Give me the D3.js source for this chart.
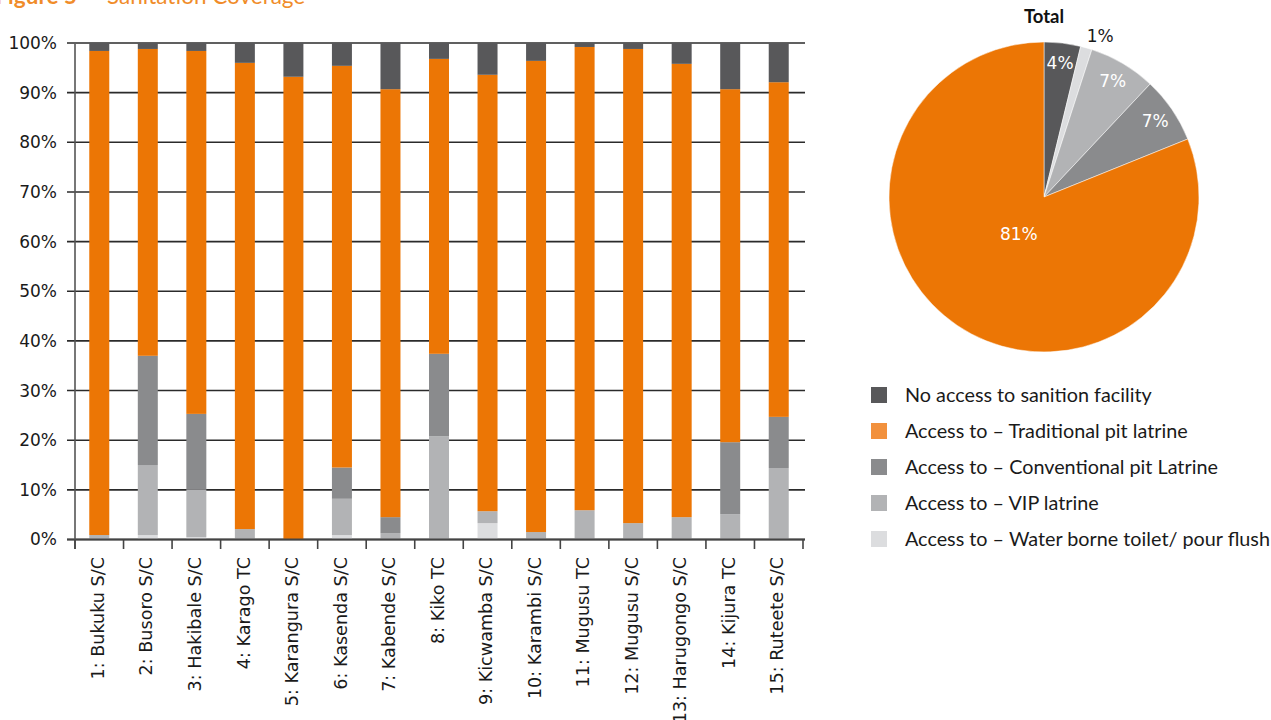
<!DOCTYPE html>
<html>
<head>
<meta charset="utf-8">
<script src="https://cdn.jsdelivr.net/npm/d3@7"></script>
<style>
  body { margin: 0; background: #fff; }
  svg { display: block; }
  .tick-label { font-family: "DejaVu Sans", sans-serif; font-size: 17px; fill: #1a1a1a; }
  .cat-label { font-family: "DejaVu Sans", sans-serif; font-size: 17.6px; fill: #1a1a1a; }
  .legend-label { font-family: Lato, sans-serif; font-size: 19.8px; fill: #1a1a1a; }
</style>
</head>
<body>
<div id="chart"></div>
<script>
const categories = [
  '1: Bukuku S/C', '2: Busoro S/C', '3: Hakibale S/C', '4: Karago TC', '5: Karangura S/C',
  '6: Kasenda S/C', '7: Kabende S/C', '8: Kiko TC', '9: Kicwamba S/C', '10: Karambi S/C',
  '11: Mugusu TC', '12: Mugusu S/C', '13: Harugongo S/C', '14: Kijura TC', '15: Ruteete S/C'
];
const seriesNames = [
  'No access to sanition facility',
  'Access to \u2013 Traditional pit latrine',
  'Access to \u2013 Conventional pit Latrine',
  'Access to \u2013 VIP latrine',
  'Access to \u2013 Water borne toilet/ pour flush'
];
// per-subcounty percentages, one array per series
const waterBorne   = [0,   0.9,  0.5, 0,    0,    0.9,  0,    0,    3.3,  0,    0,    0,    0,    0,    0];
const vipLatrine   = [0.9, 14.1, 9.5, 2.1,  0,    7.3,  1.3,  20.8, 2.4,  1.5,  5.9,  3.3,  4.5,  5.1,  14.4];
const conventional = [0,   22.0, 15.3, 0,   0,    6.3,  3.2,  16.6, 0,    0,    0,    0,    0,    14.5, 10.3];
const traditional  = [97.5, 61.8, 73.1, 93.9, 93.2, 80.9, 86.2, 59.4, 87.9, 94.9, 93.3, 95.5, 91.3, 71.1, 67.4];
const noAccess     = [1.6, 1.2,  1.6, 4.0,  6.8,  4.6,  9.3,  3.2,  6.4,  3.6,  0.8,  1.2,  4.2,  9.3,  7.9];
const yTicks = [0, 10, 20, 30, 40, 50, 60, 70, 80, 90, 100];

// pie: total across district
const pieValues = [3.8, 1.2, 7.0, 6.9, 81.1];
const pieLabels = ['4%', '1%', '7%', '7%', '81%'];
const pieSeries = [0, 4, 3, 2, 1]; // index into seriesNames / colors

const colors = ['#58585a', '#ec7605', '#8a8b8d', '#b2b3b5', '#dcdddf'];
const legendColors = ['#58585a', '#f2913d', '#8a8b8d', '#b2b3b5', '#dcdddf'];

const width = 1271;
const height = 720;

const svg = d3.select('#chart').append('svg')
  .attr('width', width)
  .attr('height', height);

// title (cut off at the top in the original)
svg.append('text')
  .attr('x', 77).attr('y', 4)
  .attr('text-anchor', 'end')
  .style('font-family', 'Lato, sans-serif')
  .style('font-size', '22.5px')
  .style('font-weight', 'bold')
  .style('fill', '#f08c2a')
  .text('Figure 5');
svg.append('text')
  .attr('x', 107).attr('y', 4)
  .style('font-family', 'Lato, sans-serif')
  .style('font-size', '22.5px')
  .style('fill', '#f08c2a')
  .text('Sanitation Coverage');

// ---- stacked bars ----
const rows = categories.map((c, i) => ({
  name: c,
  water: waterBorne[i],
  vip: vipLatrine[i],
  conv: conventional[i],
  trad: traditional[i],
  none: noAccess[i],
}));
const keys = ['water', 'vip', 'conv', 'trad', 'none'];
const keyColor = { none: colors[0], trad: colors[1], conv: colors[2], vip: colors[3], water: colors[4] };

const x = d3.scaleBand()
  .domain(categories)
  .range([75, 803])
  .paddingInner(0.588)
  .paddingOuter(0.294);
const step = x.step();

const y = d3.scaleLinear()
  .domain([0, 100])
  .range([539.5, 43]);

const grid = svg.append('g');
grid.selectAll('line')
  .data(yTicks)
  .enter().append('line')
  .attr('x1', 67).attr('x2', 805)
  .attr('y1', (d) => y(d)).attr('y2', (d) => y(d))
  .attr('stroke', '#2b2b2b')
  .attr('stroke-width', 1.6);

svg.append('g').selectAll('text')
  .data(yTicks)
  .enter().append('text')
  .attr('class', 'tick-label')
  .attr('x', 57)
  .attr('y', (d) => y(d))
  .attr('dy', '0.35em')
  .attr('text-anchor', 'end')
  .text((d) => `${d}%`);

const stack = d3.stack().keys(keys)(rows);

svg.append('g').selectAll('g')
  .data(stack)
  .enter().append('g')
  .attr('fill', (d) => keyColor[d.key])
  .selectAll('rect')
  .data((d) => d)
  .enter().append('rect')
  .attr('x', (d) => x(d.data.name))
  .attr('width', x.bandwidth())
  .attr('y', (d) => y(d[1]))
  .attr('height', (d) => y(d[0]) - y(d[1]));

// axes drawn over the bars
svg.append('line')
  .attr('x1', 67).attr('x2', 805)
  .attr('y1', y(0)).attr('y2', y(0))
  .attr('stroke', '#444').attr('stroke-width', 2);
svg.append('line')
  .attr('x1', 75).attr('x2', 75)
  .attr('y1', 44).attr('y2', 549)
  .attr('stroke', '#555').attr('stroke-width', 1.6);

const boundaries = d3.range(categories.length + 1).map((i) => x.range()[0] + i * step);
svg.append('g').selectAll('line')
  .data(boundaries)
  .enter().append('line')
  .attr('x1', (d) => d).attr('x2', (d) => d)
  .attr('y1', y(0)).attr('y2', 549)
  .attr('stroke', '#444').attr('stroke-width', 1.6);

svg.append('g').selectAll('text')
  .data(categories)
  .enter().append('text')
  .attr('class', 'cat-label')
  .attr('transform', (d) => `translate(${x(d) + x.bandwidth() / 2 - 1.5},557) rotate(-90)`)
  .attr('dy', '0.35em')
  .attr('text-anchor', 'end')
  .text((d) => d);

// ---- pie ----
const R = 155;
const pieG = svg.append('g')
  .attr('transform', 'translate(1044,197)');

svg.append('text')
  .attr('x', 1044).attr('y', 23)
  .attr('text-anchor', 'middle')
  .style('font-family', 'Lato, sans-serif')
  .style('font-size', '18.5px')
  .style('font-weight', 'bold')
  .style('fill', '#111')
  .text('Total');

const pieData = pieValues.map((v, i) => ({ value: v, label: pieLabels[i], s: pieSeries[i] }));
const pie = d3.pie().sort(null).value((d) => d.value);
const arc = d3.arc().innerRadius(0).outerRadius(R);
const arcs = pie(pieData);

pieG.selectAll('path')
  .data(arcs)
  .enter().append('path')
  .attr('d', arc)
  .attr('fill', (d) => colors[d.data.s])
  .attr('stroke', '#fff')
  .attr('stroke-width', 0.5);

function labelRadius(v) {
  if (v < 2) { return R * 1.1; }
  if (v > 50) { return R * 0.29; }
  return R * 0.87;
}

pieG.selectAll('text')
  .data(arcs)
  .enter().append('text')
  .attr('class', 'tick-label')
  .attr('transform', (d) => {
    const r = labelRadius(d.data.value);
    const a = (d.startAngle + d.endAngle) / 2 + (d.data.value < 2 ? 0.06 : 0);
    return `translate(${r * Math.sin(a)},${-r * Math.cos(a)})`;
  })
  .attr('dy', '0.35em')
  .attr('text-anchor', 'middle')
  .style('fill', (d) => (d.data.value < 2 ? '#1a1a1a' : '#fff'))
  .text((d) => d.data.label);

// ---- legend ----
const legend = svg.append('g').selectAll('g')
  .data(seriesNames)
  .enter().append('g')
  .attr('transform', (d, i) => `translate(871,${395 + i * 36})`);

legend.append('rect')
  .attr('x', 0).attr('y', -8)
  .attr('width', 16).attr('height', 16)
  .attr('fill', (d, i) => legendColors[i]);

legend.append('text')
  .attr('class', 'legend-label')
  .attr('x', 34)
  .attr('dy', '0.35em')
  .text((d) => d);
</script>
</body>
</html>
